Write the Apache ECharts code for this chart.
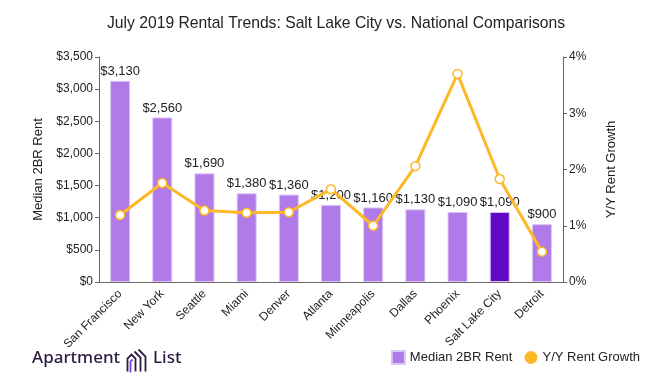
<!DOCTYPE html>
<html><head><meta charset="utf-8">
<script src="https://cdn.jsdelivr.net/npm/echarts@6/dist/echarts.min.js"></script>
<style>html,body{margin:0;padding:0;background:#fff}#c{width:650px;height:380px}</style>
</head><body><div id="c"></div>
<script>
const cities = ['San Francisco','New York','Seattle','Miami','Denver','Atlanta','Minneapolis','Dallas','Phoenix','Salt Lake City','Detroit'];
const rent = [3130,2560,1690,1380,1360,1200,1160,1130,1090,1090,900];
const growth = [1.19,1.76,1.27,1.23,1.24,1.65,1.00,2.06,3.70,1.83,0.54];
const highlightCity = 'Salt Lake City';
const rentTicks = [0,500,1000,1500,2000,2500,3000,3500];
const growthTicks = [0,1,2,3,4];

const FONT = '"Liberation Sans", Arial, sans-serif';
const fmt = v => '$' + v.toLocaleString('en-US');
const chart = echarts.init(document.getElementById('c'), null, {renderer:'canvas'});
chart.setOption({
  animation:false,
  textStyle:{fontFamily:FONT},
  title:{text:'July 2019 Rental Trends: Salt Lake City vs. National Comparisons',left:102,top:11,
    textStyle:{fontSize:15.7,fontWeight:'normal',color:'#222',fontFamily:FONT}},
  grid:{left:99,right:87,top:57,bottom:98},
  legend:{right:5,bottom:10,itemWidth:13,itemHeight:13,itemGap:12,
    textStyle:{fontSize:13,color:'#222',fontFamily:FONT},
    data:[{name:'Median 2BR Rent',icon:'rect',itemStyle:{color:'#b07ae8'}},{name:'Y/Y Rent Growth',icon:'circle',itemStyle:{color:'#fdb827',borderWidth:0}}]},
  xAxis:{type:'category',data:cities,
    axisLine:{lineStyle:{color:'#666'}},
    axisTick:{alignWithLabel:true,length:5,lineStyle:{color:'#666'}},
    axisLabel:{rotate:45,fontSize:12,color:'#222',interval:0,margin:10}},
  yAxis:[
    {type:'value',min:rentTicks[0],max:rentTicks[rentTicks.length-1],interval:500,
     name:'Median 2BR Rent',nameLocation:'middle',nameGap:53,nameTextStyle:{fontSize:13,color:'#222'},
     axisLine:{show:true,lineStyle:{color:'#666'}},axisTick:{show:true,length:4,lineStyle:{color:'#666'}},
     splitLine:{show:false},axisLabel:{formatter:fmt,fontSize:12,color:'#222',margin:6}},
    {type:'value',min:growthTicks[0],max:growthTicks[growthTicks.length-1],interval:1,
     name:'Y/Y Rent Growth',nameLocation:'middle',nameGap:42,nameRotate:90,nameTextStyle:{fontSize:13,color:'#222'},
     axisLine:{show:true,lineStyle:{color:'#666'}},axisTick:{show:true,length:4,lineStyle:{color:'#666'}},
     splitLine:{show:false},axisLabel:{formatter:'{value}%',fontSize:12,color:'#222',margin:6}}
  ],
  series:[
    {name:'Median 2BR Rent',type:'bar',barWidth:20,yAxisIndex:0,
     data:rent.map((v,i)=>({value:v,itemStyle:{color:cities[i]===highlightCity?'#6008c6':'#b07ae8'}})),
     itemStyle:{borderColor:'#dcc6f5',borderWidth:1},
     label:{show:true,position:'top',distance:3,formatter:p=>fmt(p.value),fontSize:13,color:'#222'}},
    {name:'Y/Y Rent Growth',type:'line',yAxisIndex:1,data:growth,z:5,
     lineStyle:{color:'#fdb827',width:3},itemStyle:{color:'#fff',borderColor:'#fdb827',borderWidth:1.5},
     symbol:'circle',symbolSize:9}
  ],
  graphic:[
    {type:'text',left:32,top:350,style:{text:'Apartment',fontSize:17,fontWeight:500,fill:'#2b1b3e',fontFamily:'"Noto Sans", sans-serif'}},
    {type:'group',left:125,top:347,children:[
      {type:'polyline',shape:{points:[[2,22],[2,9],[6,5],[10,9],[10,22]]},style:{stroke:'#2b1b3e',lineWidth:1.8,fill:null}},
      {type:'polyline',shape:{points:[[5,23],[5,12],[7,10]]},style:{stroke:'#7a3de0',lineWidth:1.8,fill:null}},
      {type:'polyline',shape:{points:[[9,2],[15,8],[15,22]]},style:{stroke:'#2b1b3e',lineWidth:1.8,fill:null}},
      {type:'polyline',shape:{points:[[13,0],[20,7],[20,22]]},style:{stroke:'#2b1b3e',lineWidth:1.8,fill:null}}
    ]},
    {type:'text',left:153,top:350,style:{text:'List',fontSize:17,fontWeight:500,fill:'#2b1b3e',fontFamily:'"Noto Sans", sans-serif'}}
  ]
});
</script></body></html>
